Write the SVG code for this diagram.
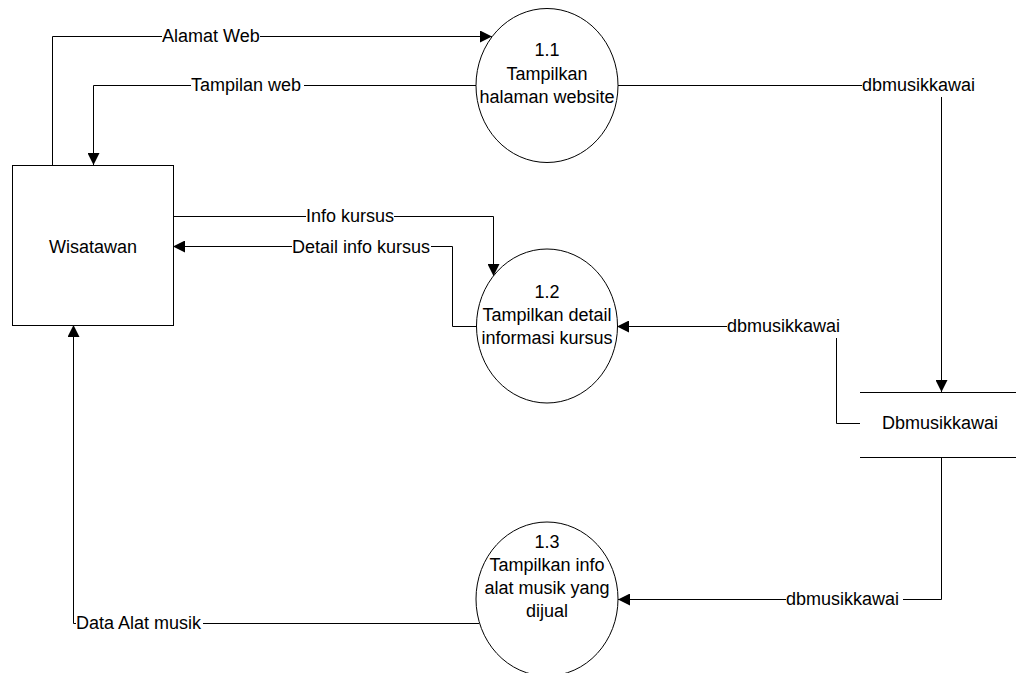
<svg xmlns="http://www.w3.org/2000/svg" width="1016" height="673" viewBox="0 0 1016 673">
<defs>
<marker id="arr" markerUnits="userSpaceOnUse" markerWidth="12" markerHeight="12" refX="12" refY="6" orient="auto">
<path d="M0,0 L12,6 L0,12 z" fill="#000"/>
</marker>
<style>
text{font-family:"Liberation Sans",Arial,sans-serif;font-size:18px;fill:#000}
.c{text-anchor:middle}
.ln{fill:none;stroke:#000;stroke-width:1}
.shape{fill:#fff;stroke:#000;stroke-width:1}
</style>
</defs>
<rect width="1016" height="673" fill="#fff"/>
<g id="connectors">
<path class="ln" d="M52.5,165 V36.5 H162"/>
<path class="ln" d="M260,36.5 H492" marker-end="url(#arr)"/>
<text x="162" y="42">Alamat Web</text>
<path class="ln" d="M476,85.5 H304"/>
<path class="ln" d="M191,85.5 H93.5 V165" marker-end="url(#arr)"/>
<text x="191" y="91">Tampilan web</text>
<path class="ln" d="M618,85.5 H862"/>
<text x="862" y="91">dbmusikkawai</text>
<path class="ln" d="M941.5,97 V392" marker-end="url(#arr)"/>
<path class="ln" d="M173,216.5 H306"/>
<path class="ln" d="M394,216.5 H493.5 V276" marker-end="url(#arr)"/>
<text x="306" y="222">Info kursus</text>
<path class="ln" d="M476,326.5 H452.5 V246.5 H431"/>
<path class="ln" d="M292,246.5 H173" marker-end="url(#arr)"/>
<text x="292" y="253">Detail info kursus</text>
<path class="ln" d="M860,423.5 H836.5 V338"/>
<path class="ln" d="M727,326.5 H617" marker-end="url(#arr)"/>
<text x="727" y="332">dbmusikkawai</text>
<path class="ln" d="M941.5,457 V599.5 H903"/>
<path class="ln" d="M786,599.5 H618" marker-end="url(#arr)"/>
<text x="786" y="605">dbmusikkawai</text>
<path class="ln" d="M479,623.5 H203"/>
<path class="ln" d="M76,623.5 H73.5 V325" marker-end="url(#arr)"/>
<text x="76" y="629">Data Alat musik</text>
</g>
<g id="wisatawan">
<rect class="shape" x="12.5" y="165.5" width="161" height="160"/>
<text class="c" x="93" y="253">Wisatawan</text>
</g>
<g id="p11">
<ellipse class="shape" cx="547" cy="85.5" rx="71" ry="77"/>
<text class="c" x="547" y="56">1.1</text>
<text class="c" x="547" y="80">Tampilkan</text>
<text class="c" x="547" y="103">halaman website</text>
</g>
<g id="p12">
<ellipse class="shape" cx="547" cy="326" rx="70.5" ry="77"/>
<text class="c" x="547" y="298">1.2</text>
<text class="c" x="547" y="321">Tampilkan detail</text>
<text class="c" x="547" y="344">informasi kursus</text>
</g>
<g id="p13">
<ellipse class="shape" cx="547" cy="599" rx="71" ry="77"/>
<text class="c" x="547" y="548">1.3</text>
<text class="c" x="547" y="571">Tampilkan info</text>
<text class="c" x="547" y="594">alat musik yang</text>
<text class="c" x="547" y="617">dijual</text>
</g>
<g id="datastore">
<path class="ln" d="M860,392.5 H1016 M860,457.5 H1016"/>
<text class="c" x="940" y="429">Dbmusikkawai</text>
</g>
</svg>
